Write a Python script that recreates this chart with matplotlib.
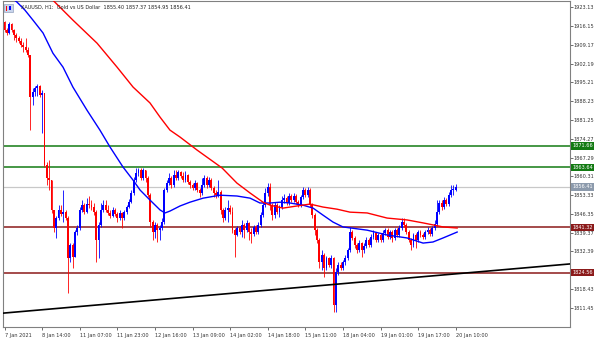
import numpy as np
import matplotlib.pyplot as plt
from matplotlib.patches import Rectangle

# XAUUSD H1, one value per bar (open of each bar = previous close)
first_open = 1917.7
close = [1914.7, 1913.6, 1916.9, 1914.7, 1912.8, 1911.7, 1910.6, 1909.1, 1908.4, 1907.3,
         1905.4, 1889.8, 1891.6, 1893.1, 1893.9, 1890.5, 1891.3, 1864.5, 1859.7, 1858.9,
         1847.8, 1841.1, 1844.8, 1847.8, 1846.3, 1847.0, 1844.8, 1829.9, 1834.8, 1830.3,
         1839.6, 1841.1, 1847.8, 1849.6, 1847.0, 1850.0, 1849.6, 1848.9, 1847.0, 1836.6,
         1842.2, 1847.8, 1849.6, 1847.8, 1846.7, 1845.5, 1847.8, 1846.3, 1844.8, 1846.7,
         1844.8, 1847.0, 1848.9, 1850.7, 1854.1, 1858.9, 1861.5, 1862.6, 1859.7, 1862.6,
         1859.7, 1853.3, 1843.3, 1839.6, 1842.2, 1840.3, 1841.1, 1843.3, 1855.2, 1857.8,
         1859.7, 1857.1, 1860.8, 1859.7, 1861.9, 1860.4, 1858.9, 1860.8, 1858.2, 1857.1,
         1855.9, 1857.8, 1855.2, 1854.1, 1857.1, 1859.7, 1857.1, 1858.9, 1855.9, 1854.1,
         1853.3, 1854.5, 1847.8, 1844.8, 1847.8, 1848.5, 1847.0, 1840.3, 1838.5, 1841.1,
         1839.6, 1842.2, 1840.3, 1842.9, 1839.6, 1838.9, 1841.5, 1839.6, 1842.2, 1845.9,
         1849.6, 1854.1, 1856.3, 1849.6, 1845.9, 1849.6, 1847.0, 1848.9, 1851.5, 1852.2,
         1850.4, 1853.0, 1851.5, 1853.0, 1850.7, 1849.6, 1852.6, 1855.2, 1853.3, 1855.2,
         1849.6, 1845.9, 1840.3, 1836.6, 1828.4, 1831.0, 1826.2, 1829.9, 1827.3, 1829.9,
         1812.5, 1824.7, 1827.3, 1826.2, 1828.4, 1829.9, 1832.9, 1839.6, 1837.4, 1834.8,
         1832.9, 1835.5, 1832.9, 1834.4, 1836.6, 1834.8, 1837.7, 1839.2, 1836.6, 1838.5,
         1836.6, 1839.2, 1840.3, 1837.7, 1839.6, 1837.4, 1840.3, 1838.5, 1841.1, 1843.3,
         1842.2, 1839.6, 1836.6, 1834.8, 1838.5, 1836.6, 1839.6, 1838.5, 1837.7, 1839.6,
         1840.3, 1838.9, 1841.1, 1842.6, 1847.0, 1850.4, 1848.9, 1851.5, 1850.0, 1853.3,
         1855.2, 1855.4, 1856.41]
high = [1918.0, 1915.4, 1917.7, 1917.3, 1915.1, 1913.6, 1912.5, 1911.7, 1910.2, 1911.7,
        1908.4, 1905.4, 1893.1, 1893.9, 1894.6, 1894.2, 1892.4, 1891.3, 1865.6, 1866.4,
        1857.1, 1847.8, 1845.5, 1849.6, 1849.6, 1855.2, 1847.8, 1845.5, 1835.5, 1835.5,
        1840.3, 1842.2, 1848.9, 1851.5, 1850.4, 1852.2, 1853.0, 1851.5, 1850.4, 1847.8,
        1843.3, 1850.4, 1851.5, 1851.5, 1849.6, 1847.8, 1848.9, 1848.5, 1847.0, 1847.8,
        1847.0, 1847.8, 1849.6, 1851.9, 1855.2, 1860.0, 1863.4, 1863.4, 1863.4, 1863.4,
        1862.6, 1860.4, 1854.1, 1844.1, 1843.3, 1842.9, 1842.2, 1844.8, 1855.9, 1858.9,
        1861.5, 1860.4, 1862.6, 1862.6, 1862.6, 1862.3, 1861.9, 1862.3, 1861.2, 1858.9,
        1857.8, 1858.9, 1858.2, 1855.9, 1859.7, 1860.8, 1860.4, 1860.0, 1859.7, 1856.7,
        1855.2, 1858.9, 1855.2, 1848.5, 1848.9, 1851.5, 1849.6, 1848.9, 1841.1, 1841.8,
        1841.8, 1844.1, 1842.9, 1844.1, 1843.3, 1841.1, 1842.2, 1842.2, 1843.3, 1847.0,
        1850.7, 1855.9, 1857.8, 1857.8, 1850.4, 1850.7, 1850.4, 1849.6, 1853.0, 1853.7,
        1853.0, 1854.1, 1853.7, 1854.1, 1853.7, 1851.5, 1853.3, 1856.3, 1855.9, 1856.3,
        1855.9, 1850.4, 1846.7, 1841.1, 1837.4, 1832.9, 1831.8, 1830.7, 1830.3, 1831.0,
        1830.3, 1826.2, 1828.4, 1828.4, 1829.2, 1831.0, 1833.6, 1841.5, 1840.3, 1838.1,
        1835.5, 1836.6, 1835.9, 1835.5, 1837.7, 1837.4, 1838.9, 1840.3, 1839.6, 1839.2,
        1839.2, 1840.3, 1841.1, 1841.1, 1840.3, 1840.3, 1841.1, 1841.1, 1842.2, 1844.8,
        1844.8, 1842.9, 1840.3, 1837.4, 1839.2, 1839.2, 1840.3, 1840.3, 1839.2, 1840.3,
        1841.5, 1841.1, 1841.8, 1844.1, 1851.5, 1851.5, 1851.5, 1852.6, 1852.2, 1854.5,
        1857.1, 1857.1, 1857.37]
low = [1913.9, 1912.8, 1913.2, 1913.9, 1911.0, 1910.2, 1909.9, 1908.4, 1906.5, 1906.5,
       1904.7, 1877.5, 1886.8, 1890.2, 1890.2, 1889.8, 1876.4, 1863.8, 1857.1, 1855.2,
       1846.7, 1839.6, 1837.4, 1844.1, 1845.5, 1843.3, 1844.1, 1816.9, 1828.4, 1826.2,
       1831.0, 1838.5, 1840.3, 1847.0, 1846.3, 1846.7, 1848.5, 1847.8, 1845.9, 1828.4,
       1829.9, 1841.5, 1847.0, 1847.0, 1845.9, 1844.8, 1845.2, 1845.5, 1843.3, 1844.1,
       1841.1, 1844.1, 1846.3, 1848.5, 1850.4, 1853.3, 1858.2, 1860.4, 1858.9, 1858.9,
       1858.2, 1852.6, 1841.5, 1836.6, 1837.4, 1835.9, 1836.6, 1840.3, 1842.6, 1854.5,
       1857.1, 1855.9, 1856.3, 1858.9, 1858.9, 1859.7, 1858.2, 1858.2, 1857.4, 1855.9,
       1855.2, 1855.2, 1854.5, 1852.6, 1853.3, 1856.3, 1855.9, 1856.3, 1855.2, 1852.6,
       1852.2, 1852.6, 1846.3, 1843.3, 1844.1, 1843.3, 1846.3, 1839.2, 1830.3, 1838.1,
       1838.9, 1837.7, 1837.4, 1839.6, 1836.6, 1835.5, 1838.1, 1838.9, 1838.9, 1841.5,
       1845.2, 1848.9, 1853.0, 1847.8, 1844.1, 1844.8, 1846.3, 1845.2, 1848.1, 1850.4,
       1849.6, 1849.6, 1850.7, 1850.7, 1850.0, 1848.9, 1848.9, 1851.9, 1852.6, 1852.6,
       1848.9, 1844.8, 1838.5, 1835.5, 1826.2, 1825.5, 1822.9, 1825.5, 1826.6, 1826.2,
       1809.8, 1809.8, 1823.6, 1825.5, 1825.5, 1827.3, 1829.2, 1832.2, 1836.6, 1833.6,
       1831.8, 1832.2, 1830.3, 1831.8, 1833.6, 1834.0, 1834.0, 1837.0, 1835.9, 1835.9,
       1835.9, 1835.9, 1838.5, 1837.0, 1837.0, 1835.9, 1836.6, 1837.7, 1837.7, 1840.3,
       1841.5, 1838.9, 1835.9, 1832.9, 1834.0, 1833.6, 1835.9, 1837.7, 1837.0, 1837.0,
       1838.9, 1838.1, 1838.1, 1840.3, 1841.8, 1846.3, 1847.8, 1848.1, 1849.3, 1849.3,
       1852.6, 1853.3, 1854.95]

# moving averages (bar index, price)
ma_blue_bar = [4, 5.3, 8.7, 12.1, 16.4, 20.6, 24.9, 29.1, 35.1, 40.6, 44.9, 50.4, 54.7, 57.7,
               61.9, 66.2, 68.3, 70.4, 74.7, 78.9, 84.5, 91.7, 98.9, 104.5, 108.7, 113.0,
               117.2, 121.5, 127.0, 131.3, 135.5, 139.8, 144.0, 154.3, 162.8, 171.3, 178.1,
               182.3, 186.6, 192.6]
ma_blue_val = [1926.0, 1925.1, 1922.1, 1918.4, 1913.6, 1906.1, 1900.9, 1893.5, 1884.9, 1877.5,
               1871.2, 1863.8, 1858.9, 1855.2, 1851.5, 1847.8, 1846.7, 1847.4, 1849.3, 1850.7,
               1852.2, 1853.3, 1853.0, 1852.2, 1850.4, 1850.4, 1850.7, 1850.4, 1849.6, 1848.5,
               1845.9, 1843.3, 1841.5, 1840.3, 1838.5, 1837.4, 1835.5, 1835.9, 1837.4, 1839.6]
ma_red_bar = [19, 20.6, 29.1, 39.4, 47.9, 54.7, 61.9, 66.2, 70.4, 74.7, 81.9, 92.6, 98.9,
              104.5, 110.0, 113.0, 118.5, 124.5, 130.0, 135.5, 141.5, 147.0, 154.3, 162.8,
              171.3, 178.1, 186.6, 192.6]
ma_red_val = [1926.5, 1925.8, 1918.4, 1909.8, 1900.9, 1893.5, 1887.6, 1882.3, 1877.5, 1874.9,
              1870.1, 1863.4, 1857.8, 1854.1, 1850.7, 1849.6, 1848.5, 1849.3, 1850.0, 1848.9,
              1848.1, 1847.0, 1846.7, 1844.8, 1844.1, 1843.0, 1841.5, 1841.1]

green_levels = [1871.66, 1863.64]
red_levels = [1841.32, 1824.56]
bid = 1856.41
trend_bars = [0, 240]
trend_prices = [1809.5, 1827.7]

price_ticks = [1923.13, 1916.15, 1909.17, 1902.19, 1895.21, 1888.23, 1881.25, 1874.27,
               1867.29, 1860.31, 1853.33, 1846.35, 1839.37, 1832.39, 1825.41, 1818.43, 1811.45]
time_ticks = ["7 Jan 2021", "8 Jan 14:00", "11 Jan 07:00", "11 Jan 23:00", "12 Jan 16:00",
              "13 Jan 09:00", "14 Jan 02:00", "14 Jan 18:00", "15 Jan 11:00", "18 Jan 04:00",
              "19 Jan 01:00", "19 Jan 17:00", "20 Jan 10:00"]

header = "XAUUSD, H1:  Gold vs US Dollar  1855.40 1857.37 1854.95 1856.41"

plt.rcParams['font.family'] = ['DejaVu Sans']
fs = 3.6

fig = plt.figure(figsize=(6.02, 3.41), dpi=100)
ax = fig.add_axes([3 / 602, 1 - 327 / 341, 566.5 / 602, 326 / 341])

n = len(close)
idx = np.arange(n)
c = np.array(close)
o = np.concatenate([[first_open], c[:-1]])
h = np.maximum(np.array(high), np.maximum(o, c))
l = np.minimum(np.array(low), np.minimum(o, c))
up = c >= o
cols = np.where(up, '#0000ff', '#ff0000')

ax.vlines(idx, l, h, colors=cols, linewidth=0.6, zorder=3)
body = np.maximum(np.abs(c - o), 0.25)
ax.bar(idx, body, bottom=np.minimum(o, c), width=0.8, color=cols, linewidth=0, zorder=3)

ax.plot(ma_blue_bar, ma_blue_val, color='#0000ff', lw=1.0, zorder=4)
ax.plot(ma_red_bar, ma_red_val, color='#ff0000', lw=1.0, zorder=4)

for lv in green_levels:
    ax.axhline(lv, color='#137a13', lw=1.1, zorder=2)
for lv in red_levels:
    ax.axhline(lv, color='#8b1a1a', lw=1.1, zorder=2)
ax.axhline(bid, color='#c8c8c8', lw=0.9, zorder=1)
ax.axline((trend_bars[0], trend_prices[0]), (trend_bars[1], trend_prices[1]),
          color='black', lw=1.2, zorder=5)

ax.set_xlim(-0.64, 240.4)
ax.set_ylim(1804.3, 1925.5)

ax.yaxis.tick_right()
ax.set_yticks(price_ticks)
# the 1825.41 label sits under the 1824.56 box in the terminal, so leave it blank
ax.set_yticklabels(["" if abs(v - 1825.41) < 0.01 else f"{v:.2f}" for v in price_ticks])
ax.tick_params(axis='y', length=2, width=0.5, pad=1, labelsize=fs, colors='#333333')
ax.set_xticks(np.arange(len(time_ticks)) * 16)
ax.set_xticklabels(time_ticks, ha='left')
ax.tick_params(axis='x', length=2, width=0.5, pad=2, labelsize=fs, colors='#333333')
for sp in ax.spines.values():
    sp.set_color('#808080')
    sp.set_linewidth(0.8)

# price boxes on the right scale
ytr = ax.get_yaxis_transform()
for lv, bg in [(green_levels[0], '#137a13'), (green_levels[1], '#137a13'),
               (bid, '#8c9aac'), (red_levels[0], '#8b1a1a'), (red_levels[1], '#8b1a1a')]:
    ax.text(1.005, lv, f"{lv:.2f}", transform=ytr, fontsize=fs, color='white',
            va='center', ha='left', clip_on=False, zorder=10,
            bbox=dict(boxstyle='square,pad=0.25', fc=bg, ec='none'))

# header icon + text
fig.patches.append(Rectangle((4 / 602, 1 - 12 / 341), 9 / 602, 8 / 341,
                             transform=fig.transFigure, fc='#c8d4ec', ec='#8090b0', lw=0.4))
fig.patches.append(Rectangle((6 / 602, 1 - 11 / 341), 1.5 / 602, 5 / 341,
                             transform=fig.transFigure, fc='#ff0000', ec='none'))
fig.patches.append(Rectangle((9 / 602, 1 - 10 / 341), 1.5 / 602, 4 / 341,
                             transform=fig.transFigure, fc='#0000ff', ec='none'))
fig.text(21 / 602, 1 - 7.5 / 341, header, fontsize=fs, va='center', ha='left', color='#222222')

fig.savefig('out.png', dpi=100)
